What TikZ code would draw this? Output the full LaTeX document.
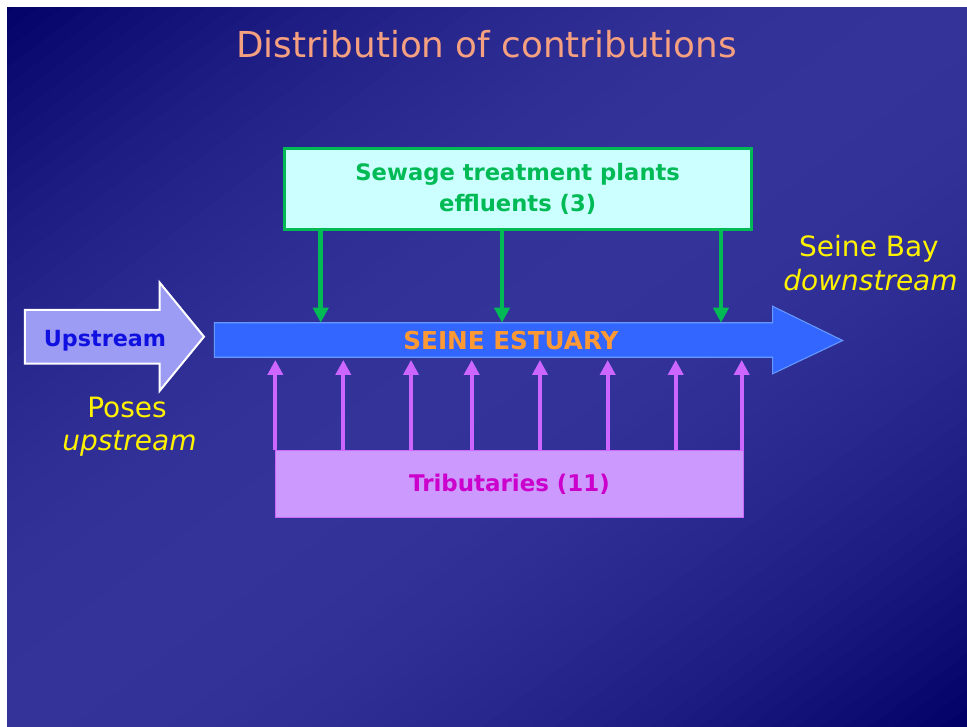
\documentclass[tikz,border=0pt]{standalone}
\usepackage{fontspec}
\setmainfont{DejaVu Sans}
\usetikzlibrary{arrows.meta,calc}
\definecolor{bgdark}{HTML}{000066}
\definecolor{bglight}{HTML}{333399}
\definecolor{titlec}{HTML}{F5A080}
\definecolor{sewgreen}{HTML}{00BB55}
\definecolor{sewfill}{HTML}{CCFFFF}
\definecolor{estblue}{HTML}{3366FF}
\definecolor{estedge}{HTML}{6699FF}
\definecolor{estorange}{HTML}{FF9933}
\definecolor{upfill}{HTML}{9C9CF4}
\definecolor{uptext}{HTML}{1010E0}
\definecolor{tribfill}{HTML}{CC99FF}
\definecolor{tribedge}{HTML}{CC66FF}
\definecolor{tribtext}{HTML}{CC00CC}
\begin{document}
\begin{tikzpicture}[x=0.75pt,y=-0.75pt,
  sewbox/.style={draw=sewgreen, line width=2.25pt, fill=sewfill, inner sep=0pt,
    minimum width=350pt, minimum height=60.5pt, align=center, text=sewgreen,
    font=\fontsize{17}{23.25}\selectfont\bfseries},
  tribbox/.style={draw=tribedge, line width=1.1pt, fill=tribfill, inner sep=0pt,
    minimum width=351pt, minimum height=50pt, text=tribtext,
    font=\fontsize{17.2}{20}\selectfont\bfseries},
  greenarr/.style={draw=sewgreen, line width=3.4pt, -{Triangle[length=11.25pt,width=11.25pt]}},
  purparr/.style={draw=tribedge, line width=3pt, shorten >=2pt, -{Triangle[length=11.25pt,width=11.25pt]}},
  yellowtxt/.style={text=yellow, font=\fontsize{21}{25}\selectfont, anchor=base, inner sep=0pt},
  yellowit/.style={yellowtxt, font=\fontsize{21}{25}\selectfont\itshape},
  hollow/.style={inner sep=0pt}
]
\fill[white] (0,0) rectangle (967,726);
\useasboundingbox (0,0) rectangle (967,726);
\begin{scope}
  \clip (7,7) rectangle (967,726);
  \foreach \k in {0,...,79} {
    \pgfmathsetmacro\sa{\k/40}
    \pgfmathsetmacro\sb{(\k+1)/40+0.006}
    \pgfmathsetmacro\p{100*(1-((\k+0.5)/40-1)^2)}
    \fill[bglight!\p!bgdark] ({967*(\sa+0.1377)},-100) -- ({967*(\sb+0.1377)},-100)
      -- ({967*(\sb-1.1377)},826) -- ({967*(\sa-1.1377)},826) -- cycle;
  }
\end{scope}

\node[text=titlec, font=\fontsize{26.8}{32}\selectfont, anchor=base, inner sep=0pt] (title) at (486.5,57) {Distribution of contributions};

\node[sewbox] (sew) at (517.7,189) {Sewage treatment plants\\effluents (3)};

% estuary arrow
\node[hollow, minimum width=418.3pt, minimum height=25.5pt] (est) at (493.5,340) {};
\coordinate (esttip) at (842.7,340.5);
\filldraw[fill=estblue, draw=estedge, line width=0.8pt]
  (est.north west) -- (est.north east) -- ++(0,-16.5) -- (esttip)
  -- ($(est.south east)+(0,16.5)$) -- (est.south east) -- (est.south west) -- cycle;
\node[text=estorange, font=\fontsize{18.5}{22}\selectfont\bfseries, inner sep=0pt] (esttext) at (511,341) {SEINE ESTUARY};

% upstream arrow
\node[hollow, minimum width=100.7pt, minimum height=40pt] (up) at (92.2,336.7) {};
\coordinate (uptip) at (204,336.7);
\filldraw[fill=upfill, draw=white, line width=1.5pt]
  (up.north west) -- (up.north east) -- ++(0,-27.3) -- (uptip)
  -- ($(up.south east)+(0,27.3)$) -- (up.south east) -- (up.south west) -- cycle;
\node[text=uptext, font=\fontsize{16.7}{20}\selectfont\bfseries, anchor=base, inner sep=0pt] (uptxt) at (105,346) {Upstream};

% tributaries
\node[tribbox] (trib) at (509.5,484) {Tributaries (11)};

% green arrows
\foreach \i/\x in {1/320.7, 2/502, 3/721} {
  \coordinate (g\i) at (\x,0);
  \draw[greenarr] (sew.south -| g\i) -- (est.north -| g\i);
}
% purple arrows
\foreach \i/\x in {1/275.3, 2/343.3, 3/411, 4/471.7, 5/540, 6/607.7, 7/675.7, 8/741.7} {
  \coordinate (p\i) at (\x,0);
  \draw[purparr] (trib.north -| p\i) -- (est.south -| p\i);
}

\node[yellowtxt] (poses) at (127,417.3) {Poses};
\node[yellowit] (posesup) at (129.5,450) {upstream};
\node[yellowtxt] (bay) at (869,256.7) {Seine Bay};
\node[yellowit] (baydown) at (870.5,290) {downstream};
\end{tikzpicture}
\end{document}
